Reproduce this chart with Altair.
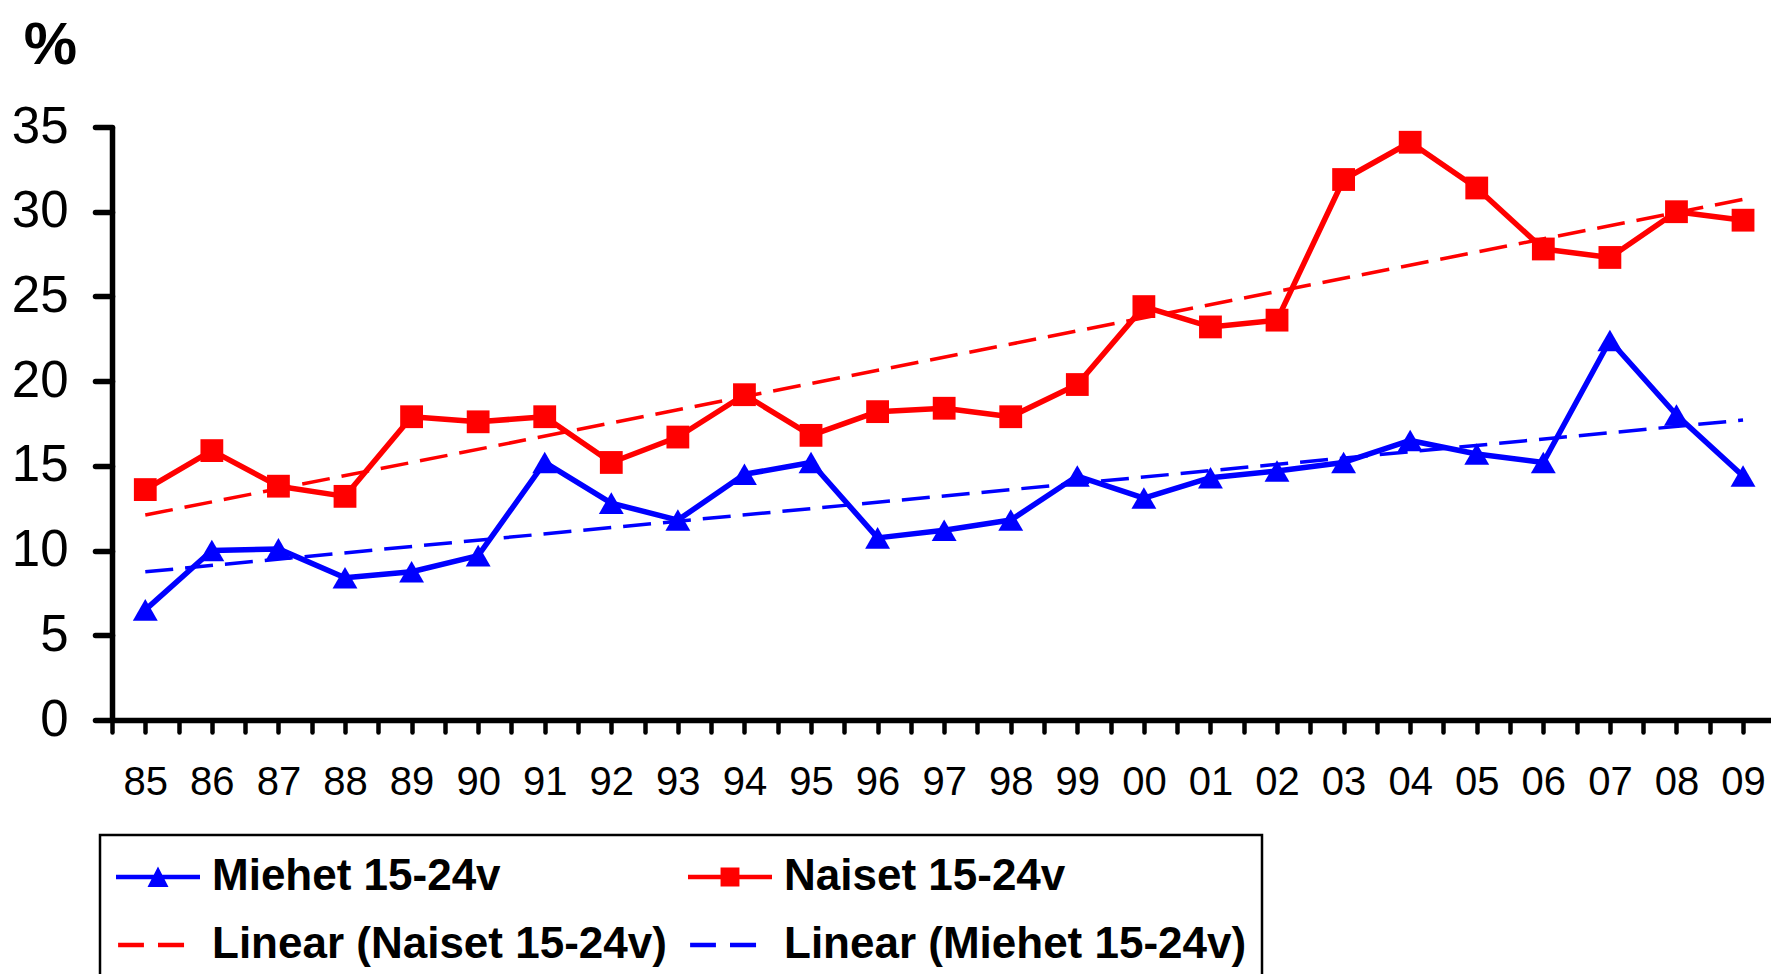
import altair as alt
import pandas as pd

# Youth figures by year (15-24 year olds), percent
years = ["85", "86", "87", "88", "89", "90", "91", "92", "93", "94", "95", "96", "97",
         "98", "99", "00", "01", "02", "03", "04", "05", "06", "07", "08", "09"]
miehet = [6.5, 10.0, 10.1, 8.4, 8.75, 9.7, 15.2, 12.8, 11.8, 14.5, 15.2, 10.75, 11.2,
          11.8, 14.4, 13.1, 14.3, 14.7, 15.2, 16.5, 15.7, 15.2, 22.4, 18.0, 14.4]
naiset = [13.6, 15.9, 13.8, 13.2, 17.9, 17.6, 17.9, 15.2, 16.7, 19.2, 16.8, 18.2, 18.4,
          17.9, 19.8, 24.4, 23.2, 23.6, 31.9, 34.1, 31.4, 27.8, 27.3, 30.0, 29.5]

MIEHET = "Miehet 15-24v"
NAISET = "Naiset 15-24v"
LIN_N = "Linear (Naiset 15-24v)"
LIN_M = "Linear (Miehet 15-24v)"

# Legend entries in column order (the legend fills column by column)
legend_names = [MIEHET, LIN_N, NAISET, LIN_M]
legend_colors = ["#0000ff", "#ff0000", "#ff0000", "#0000ff"]

# Legend glyphs (line + marker, or two dashes) as custom symbol paths
LINE_TRI = "M-1,-0.11L3,-0.11L3,0.11L-1,0.11Z M1,-0.5L1.5,0.48L0.5,0.48Z"
LINE_SQ = "M-1,-0.11L3,-0.11L3,0.11L-1,0.11Z M0.55,-0.45L1.45,-0.45L1.45,0.45L0.55,0.45Z"
DASHES = "M-0.9,-0.11L0.33,-0.11L0.33,0.11L-0.9,0.11Z M1,-0.11L2.24,-0.11L2.24,0.11L1,0.11Z"
legend_paths = [LINE_TRI, DASHES, LINE_SQ, DASHES]

n = len(years)
idx = list(range(n))
df = pd.DataFrame({
    "i": idx + idx,
    "value": miehet + naiset,
    "series": [MIEHET] * n + [NAISET] * n,
})
legend_df = pd.DataFrame({"i": [0] * 4, "value": [-100] * 4, "name": legend_names})

FONT = "Liberation Sans"

# Year labels on whole positions, plain ticks in between
year_array = "[" + ",".join("'%s'" % y for y in years) + "]"
x_ticks = [k / 2 for k in range(-1, 2 * n - 1)]

x_axis = alt.Axis(
    values=x_ticks,
    labelExpr="datum.value % 1 === 0 ? " + year_array + "[datum.value] : ''",
    title=None, grid=False, labelOverlap=False, labelFlush=False,
    labelFont=FONT, labelFontSize=40, labelColor="black", labelPadding=30,
    tickSize=12, tickWidth=4.5, tickColor="black", tickCap="round",
    domainColor="black", domainWidth=5.5,
)
y_axis = alt.Axis(
    values=[0, 5, 10, 15, 20, 25, 30, 35],
    title="%", titleAngle=0, titleX=-62, titleY=-64, titleAlign="center",
    titleBaseline="alphabetic", titleFont=FONT, titleFontSize=60,
    titleFontWeight="bold", titleColor="black",
    grid=False, labelFlush=False, labelOverlap=False,
    labelFont=FONT, labelFontSize=51, labelColor="black", labelPadding=27,
    tickSize=17, tickWidth=5.5, tickColor="black", tickCap="round",
    domainColor="black", domainWidth=5.5,
)

x_enc = alt.X("i:Q", scale=alt.Scale(domain=[-0.5, 24.42], nice=False, zero=False), axis=x_axis)
y_enc = alt.Y("value:Q", scale=alt.Scale(domain=[0, 35], nice=False, zero=True), axis=y_axis)
color_scale = alt.Scale(domain=legend_names, range=legend_colors)

# A blank one-pixel title gives the entries a little extra room at the top
legend_def = dict(
    title=" ", titleFontSize=1, titlePadding=4,
    orient="none", legendX=-12, legendY=708, columns=2,
    symbolSize=1764, symbolStrokeWidth=0, symbolOffset=0,
    labelFont=FONT, labelFontSize=44, labelFontWeight="bold", labelColor="black",
    labelOffset=53, labelLimit=1000, columnPadding=20, rowPadding=24,
    padding=15, strokeColor="black", fillColor="white",
)

# Carries the legend: four clipped, off-scale points keyed by entry name
legend_layer = alt.Chart(legend_df).mark_point(
    filled=True, clip=True, opacity=1, strokeWidth=0
).encode(
    x=x_enc, y=y_enc,
    color=alt.Color("name:N", scale=color_scale, legend=alt.Legend(**legend_def)),
    shape=alt.Shape("name:N", scale=alt.Scale(domain=legend_names, range=legend_paths),
                    legend=alt.Legend(**legend_def)),
)

lines = alt.Chart(df).mark_line(strokeWidth=5.5, strokeJoin="round").encode(
    x=x_enc, y=y_enc,
    color=alt.Color("series:N", scale=color_scale, legend=None),
    detail="series:N",
)

tri = alt.Chart(df).transform_filter(alt.datum.series == MIEHET).mark_point(
    filled=True, shape="triangle-up", size=620, opacity=1, strokeWidth=0
).encode(x=x_enc, y=y_enc, color=alt.Color("series:N", scale=color_scale, legend=None))

sq = alt.Chart(df).transform_filter(alt.datum.series == NAISET).mark_point(
    filled=True, shape="square", size=520, opacity=1, strokeWidth=0
).encode(x=x_enc, y=y_enc, color=alt.Color("series:N", scale=color_scale, legend=None))

trends = alt.Chart(df).transform_regression(
    "i", "value", groupby=["series"]
).transform_calculate(
    name="'Linear (' + datum.series + ')'"
).mark_line(strokeWidth=3.5, strokeDash=[28, 12]).encode(
    x=x_enc, y=y_enc,
    color=alt.Color("name:N", scale=color_scale, legend=None),
    detail="name:N",
)

chart = alt.layer(legend_layer, lines, trends, tri, sq).properties(
    width=1659, height=593,
    autosize=alt.AutoSizeParams(type="none"),
    padding={"left": 112, "top": 127, "right": 0, "bottom": 254},
    background="white",
).configure_view(strokeWidth=0).configure_legend(strokeWidth=2.5)

chart.save("out.html", embed_options={"renderer": "svg", "actions": False})
